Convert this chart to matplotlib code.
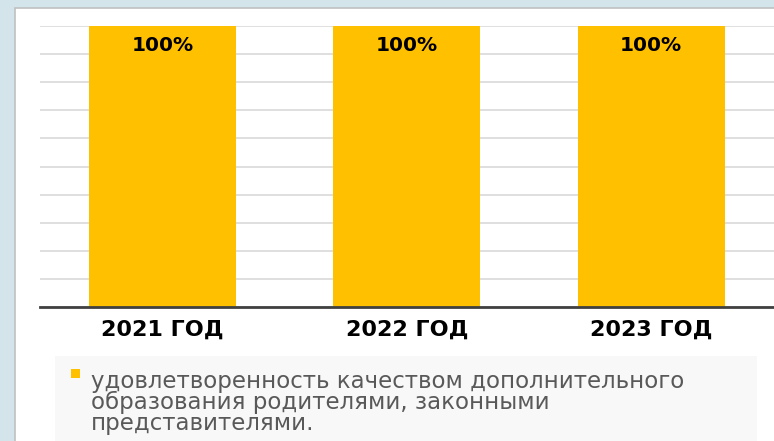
import matplotlib.pyplot as plt
from matplotlib.patches import Rectangle

# data
years = ["2021 ГОД", "2022 ГОД", "2023 ГОД"]
satisfaction = [100, 100, 100]
series_lines = ["удовлетворенность качеством дополнительного",
                "образования родителями, законными",
                "представителями."]

W, H = 774, 441
BAR_COLOR = "#FFC000"

fig = plt.figure(figsize=(W / 100, H / 100), dpi=100)
fig.patch.set_facecolor("#d3e4ea")

# white slide panel
fig.patches.append(Rectangle((15 / W, -0.1), 1, 1.1 - 8 / H, transform=fig.transFigure,
                             facecolor="white", edgecolor="#c0c0c0", linewidth=1.2,
                             zorder=-1))

ax = fig.add_axes([40 / W, 1 - 307 / H, 733.5 / W, 281 / H])
ax.set_facecolor("none")

x = range(len(years))
bars = ax.bar(x, satisfaction, width=0.6, color=BAR_COLOR, zorder=2)

ax.set_xlim(-0.5, len(years) - 0.5)
ax.set_ylim(0, 100)
ax.set_yticks(range(0, 101, 10))
ax.yaxis.grid(True, color="#d9d9d9", linewidth=1.2, zorder=0)
ax.set_axisbelow(True)
ax.tick_params(axis="y", left=False, labelleft=False)
ax.tick_params(axis="x", length=0, pad=9)
ax.set_xticks(list(x))
ax.set_xticklabels(years, fontsize=16, fontweight="bold", color="black")

for s in ["left", "right", "top"]:
    ax.spines[s].set_visible(False)
ax.spines["bottom"].set_color("#404040")
ax.spines["bottom"].set_linewidth(2)
ax.spines["bottom"].set_zorder(3)

for b, v in zip(bars, satisfaction):
    ax.text(b.get_x() + b.get_width() / 2, v - 7, f"{v}%", ha="center", va="center",
            fontsize=14.5, fontweight="bold", color="black")

# legend box (drawn by hand to match the slide layout)
def px(xp, yp):
    return xp / W, 1 - yp / H

fig.patches.append(Rectangle(px(55, 441), (757 - 55) / W, (441 - 356) / H,
                             transform=fig.transFigure, facecolor="#f8f8f8",
                             edgecolor="none", zorder=1))
fig.patches.append(Rectangle(px(71, 378), 9 / W, 9 / H, transform=fig.transFigure,
                             facecolor=BAR_COLOR, edgecolor="none", zorder=2))
fig.text(*px(91, 370), "\n".join(series_lines), fontsize=16.5, color="#595959",
         ha="left", va="top", linespacing=0.88)

fig.savefig("out.png", dpi=100, facecolor=fig.get_facecolor())
